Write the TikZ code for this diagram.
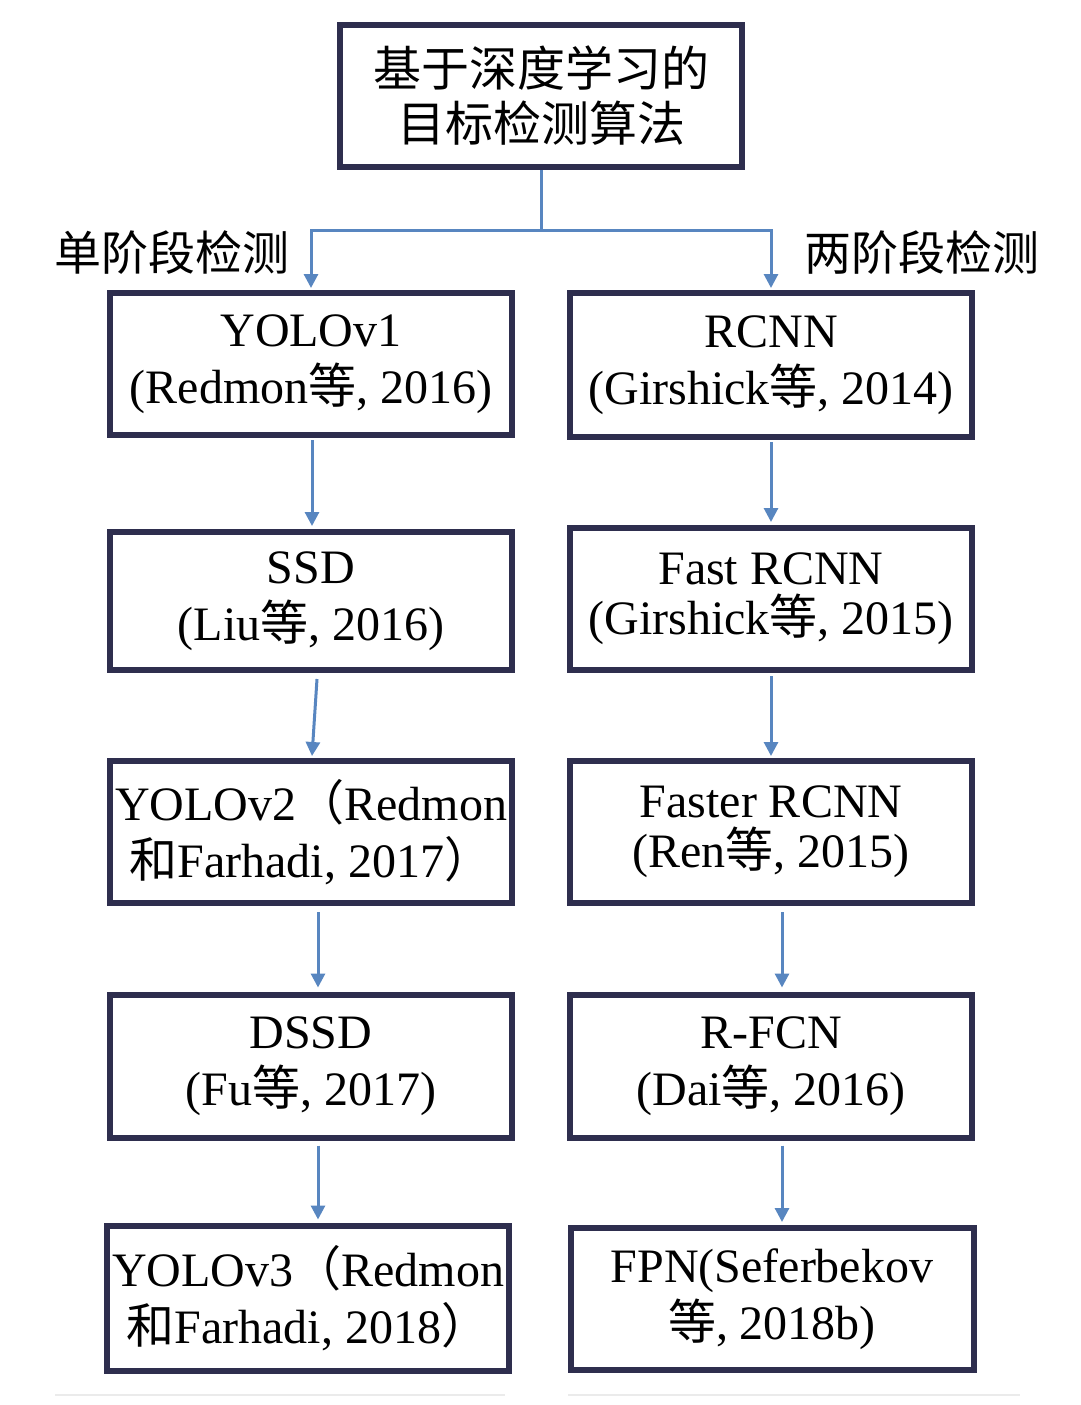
\documentclass[tikz,border=0pt]{standalone}
\usepackage{fontspec}
\setmainfont{Liberation Serif}
\newfontfamily\cjkf{Noto Sans CJK SC}
\usetikzlibrary{arrows.meta}
\definecolor{boxc}{RGB}{46,46,78}
\definecolor{arrc}{RGB}{88,134,192}
\newcommand{\zhc}[1]{{\cjkf #1}}
\begin{document}
\begin{tikzpicture}[x=1pt,y=-1pt,
  box/.style={draw=boxc,line width=6pt,fill=white,minimum width=402pt,minimum height=142pt,
    align=center,inner sep=0pt,font=\fontsize{48}{57}\selectfont},
  tight/.style={font=\fontsize{48}{50}\selectfont},
  arr/.style={draw=arrc,line width=3pt,-{Triangle[length=14pt,width=14pt]}},
  lnk/.style={draw=arrc,line width=3pt},
  lab/.style={inner sep=0pt,font=\fontsize{47}{57}\selectfont\cjkf},
  faint/.style={draw=black!8,line width=2pt}]
\useasboundingbox (0,0) rectangle (1080,1405);
\fill[white] (0,0) rectangle (1080,1405);

% top node
\node[box,font=\fontsize{48}{55}\selectfont] (top) at (541,96) {\zhc{基于深度学习的}\\\zhc{目标检测算法}};

% labels
\node[lab] (lab1) at (172,253) {单阶段检测};
\node[lab] (lab2) at (922,253) {两阶段检测};

% left column
\node[box] (l1) at (311,364) {YOLOv1\\(Redmon\zhc{等}, 2016)};
\node[box,minimum height=138pt] (l2) at (311,601) {SSD\\(Liu\zhc{等}, 2016)};
\node[box] (l3) at (311,832) {YOLOv2\zhc{（}Redmon\\\zhc{和}Farhadi, 2017\zhc{）}};
\node[box,minimum height=143pt] (l4) at (311,1066) {DSSD\\(Fu\zhc{等}, 2017)};
\node[box,minimum height=145pt] (l5) at (308,1298) {YOLOv3\zhc{（}Redmon\\\zhc{和}Farhadi, 2018\zhc{）}};

% right column
\node[box,minimum height=144pt] (r1) at (771,365) {RCNN\\(Girshick\zhc{等}, 2014)};
\node[box,tight] (r2) at (771,599) {Fast RCNN\\(Girshick\zhc{等}, 2015)};
\node[box,tight] (r3) at (771,832) {Faster RCNN\\(Ren\zhc{等}, 2015)};
\node[box,minimum height=143pt] (r4) at (771,1066) {R-FCN\\(Dai\zhc{等}, 2016)};
\node[box,minimum width=403pt] (r5) at (772,1299) {FPN(Seferbekov\\\zhc{等}, 2018b)};

% split connector
\coordinate (split) at (541,230);
\draw[lnk] (top.south) -- (split);
\draw[arr] (split) -| ([yshift=2pt]l1.north);
\draw[arr] (split) -| ([yshift=2pt]r1.north);

% left arrows
\draw[arr] ([xshift=1pt,yshift=-2pt]l1.south) -- ([xshift=1pt,yshift=3pt]l2.north);
\draw[arr] ([xshift=6pt,yshift=-6pt]l2.south) -- ([xshift=1pt,yshift=2pt]l3.north);
\draw[arr] ([xshift=7pt,yshift=-6pt]l3.south) -- ([xshift=7pt,yshift=4pt]l4.north);
\draw[arr] ([xshift=7pt,yshift=-5pt]l4.south) -- ([xshift=10pt,yshift=3pt]l5.north);

% right arrows
\draw[arr] ([yshift=-2pt]r1.south) -- ([yshift=3pt]r2.north);
\draw[arr] ([yshift=-3pt]r2.south) -- ([yshift=2pt]r3.north);
\draw[arr] ([xshift=11pt,yshift=-6pt]r3.south) -- ([xshift=11pt,yshift=4pt]r4.north);
\draw[arr] ([xshift=11pt,yshift=-5pt]r4.south) -- ([xshift=10pt,yshift=3pt]r5.north);

% faint bottom rules
\draw[faint] (55,1395) -- (505,1395);
\draw[faint] (568,1395) -- (1020,1395);
\end{tikzpicture}
\end{document}
